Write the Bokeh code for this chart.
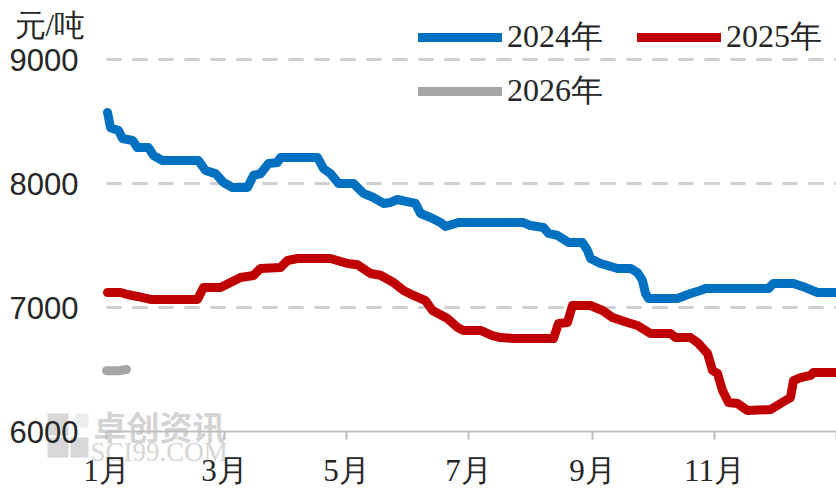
from bokeh.plotting import figure
from bokeh.models import FixedTicker, Legend, LegendItem, Label, Range1d, BoxAnnotation
from bokeh.embed import file_html
from bokeh.resources import INLINE

# ---- data (day of year, price 元/吨) ----
days_2024 = [0.5, 2, 6, 8, 13, 15.5, 21, 23.5, 28, 46, 49.5, 54.5, 58.5, 63, 70.5, 73.5, 77, 81,
             85.5, 87, 105.5, 108.5, 112, 116, 123.5, 128.5, 133.5, 138.5, 142, 145.5, 148.5,
             154.5, 157, 162, 167, 169.5, 176, 208.5, 212, 218.5, 221, 225.5, 228, 231, 238,
             240.5, 242, 247, 250.5, 255.5, 262, 265.5, 268, 269.5, 271, 285.5, 292, 297,
             299.5, 331, 333.5, 343.5, 349.5, 355.5, 365]
vals_2024 = [8573, 8450, 8427, 8363, 8347, 8290, 8290, 8226, 8185, 8185, 8105, 8080, 8008, 7968,
             7968, 8065, 8080, 8161, 8170, 8210, 8210, 8120, 8080, 8000, 8000, 7920, 7887, 7839,
             7847, 7871, 7860, 7839, 7758, 7726, 7685, 7653, 7685, 7685, 7661, 7645, 7597, 7581,
             7556, 7524, 7524, 7460, 7395, 7355, 7339, 7315, 7315, 7282, 7218, 7113, 7073, 7073,
             7113, 7137, 7153, 7153, 7194, 7194, 7161, 7121, 7121]

days_2025 = [0.5, 7, 10.5, 15.5, 22, 45.5, 48.5, 57, 62, 67, 73.5, 77, 87, 90.5, 95.5, 112, 120.5,
             125.5, 132, 137, 143.5, 148.5, 153.5, 159.5, 163, 170.5, 175.5, 178.5, 187, 193, 197,
             203.5, 223.5, 226, 230.5, 233, 242, 248, 253, 260.5, 265.5, 272, 282, 284.5, 292,
             296, 300.5, 303, 305.5, 308, 311, 315.5, 320.5, 332, 337, 342, 343.5, 347, 352,
             353.5, 365]
vals_2025 = [7121, 7121, 7105, 7089, 7065, 7065, 7161, 7161, 7202, 7242, 7258, 7315, 7323, 7379,
             7395, 7395, 7355, 7345, 7274, 7260, 7202, 7137, 7097, 7056, 6976, 6911, 6839, 6815,
             6815, 6774, 6758, 6750, 6750, 6871, 6879, 7016, 7016, 6976, 6919, 6879, 6855, 6790,
             6790, 6758, 6758, 6710, 6629, 6492, 6468, 6331, 6234, 6226, 6169, 6177, 6226, 6274,
             6411, 6435, 6452, 6476, 6476]

days_2026 = [0, 6, 10]
vals_2026 = [6490, 6490, 6500]

series_names = ["2024年", "2025年", "2026年"]
series_colors = ["#0070C0", "#C00000", "#A6A6A6"]

x_ticks = [0, 59, 120, 181, 243, 304, 365]
x_labels = ["1月", "3月", "5月", "7月", "9月", "11月", ""]
y_ticks = [6000, 7000, 8000, 9000]
grid_ticks = [7000, 8000, 9000]
unit_label = "元/吨"
watermark_cn = "卓创资讯"
watermark_en = "SCI99.COM"

SERIF = "Liberation Serif"
SANS = "Liberation Sans"
TXT = "#262626"

W, H = 836, 490
# layout: day 0 at px 106, 2 px per day; 9000 at py 59, 124 px per 1000
X0, PX_DAY = 106, 2.0
Y9, PX_VAL = 59, 0.124


def dx(px):
    return (px - X0) / PX_DAY


def dy(py):
    return 9000 - (py - Y9) / PX_VAL


p = figure(width=W, height=H, output_backend="svg", toolbar_location=None,
           x_range=Range1d(dx(0), dx(W)), y_range=Range1d(dy(H), dy(0)),
           min_border_left=0, min_border_right=0, min_border_top=0, min_border_bottom=0)
p.outline_line_color = None
p.background_fill_color = "white"
p.border_fill_color = "white"

# grid
p.xgrid.grid_line_color = None
p.ygrid.ticker = FixedTicker(ticks=grid_ticks)
p.ygrid.grid_line_color = "#D0D0D0"
p.ygrid.grid_line_width = 3
p.ygrid.grid_line_dash = "13 13"
p.ygrid.grid_line_dash_offset = 23
p.ygrid.grid_line_cap = "round"

# mask left of plot area (grid starts at the first day)
p.add_layout(BoxAnnotation(left=dx(-10), right=dx(105), bottom=dy(H + 10), top=dy(-10),
                           fill_color="white", fill_alpha=1.0, line_color=None, level="underlay"))

# watermark
for (l, r, t, b, a) in [(47, 68, 413, 435, 0.85), (47, 68, 437, 457, 0.85),
                        (70, 88, 437, 457, 0.85), (75, 88, 413, 427, 0.4)]:
    p.add_layout(BoxAnnotation(left=dx(l), right=dx(r), top=dy(t), bottom=dy(b),
                               fill_color="#D0D0D0", fill_alpha=a, line_color=None,
                               level="underlay"))
p.add_layout(Label(x=dx(93), y=dy(425), text=watermark_cn, text_font="Noto Sans CJK SC",
                   text_font_size="33px", text_font_style="bold", text_color="#D4D4D4",
                   text_baseline="middle", level="underlay"))
p.add_layout(Label(x=dx(90), y=dy(451), text=watermark_en, text_font=SERIF,
                   text_font_size="27px", text_color="#D6D6D6", text_baseline="middle",
                   level="underlay"))

renderers = []
for d, v, c in zip([days_2024, days_2025, days_2026], [vals_2024, vals_2025, vals_2026], series_colors):
    r = p.line(d, v, line_width=9, line_color=c, line_join="round", line_cap="round")
    renderers.append(r)

# axes
xa = p.xaxis[0]
xa.fixed_location = 6000
xa.bounds = (0, 365)
xa.ticker = FixedTicker(ticks=x_ticks)
xa.major_label_overrides = {t: l for t, l in zip(x_ticks, x_labels)}
xa.axis_line_color = "#BFBFBF"
xa.axis_line_width = 2
xa.major_tick_line_color = "#BFBFBF"
xa.major_tick_line_width = 2
xa.major_tick_out = 8
xa.major_tick_in = 0
xa.minor_tick_line_color = None
xa.major_label_standoff = 13
xa.major_label_text_font = SERIF
xa.major_label_text_font_size = "31px"
xa.major_label_text_color = TXT

ya = p.yaxis[0]
ya.fixed_location = 0
ya.ticker = FixedTicker(ticks=y_ticks)
ya.axis_line_color = None
ya.major_tick_line_color = None
ya.minor_tick_line_color = None
ya.major_tick_out = 0
ya.major_tick_in = 0
ya.major_label_standoff = 28
ya.major_label_text_font = SANS
ya.major_label_text_font_size = "31px"
ya.major_label_text_color = TXT

# unit label
p.add_layout(Label(x=dx(14), y=dy(25), text=unit_label, text_font=SERIF,
                   text_font_size="31px", text_color=TXT, text_baseline="middle"))

legend = Legend(items=[LegendItem(label=n, renderers=[r]) for n, r in zip(series_names, renderers)],
                location=(418, 377), orientation="horizontal", ncols=2,
                glyph_width=84, glyph_height=28, label_standoff=5, spacing=10,
                label_width=120, label_height=42,
                padding=0, margin=0, border_line_color=None, background_fill_alpha=0,
                label_text_font=SERIF, label_text_font_size="32px", label_text_color=TXT)
p.add_layout(legend)

open("out.html", "w").write(file_html(p, INLINE))
